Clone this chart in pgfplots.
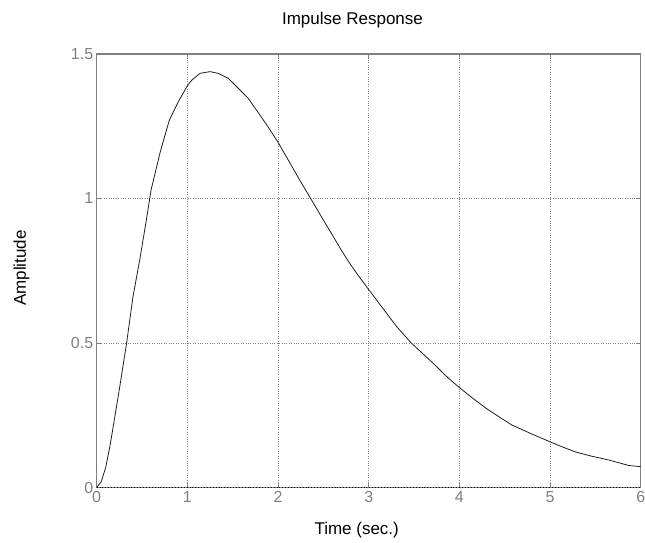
\documentclass[border=0pt]{standalone}
\usepackage{fontspec}
\setmainfont{Liberation Sans}
\usepackage{pgfplots}
\pgfplotsset{compat=1.18}
\definecolor{axgray}{RGB}{128,128,128}
\definecolor{curve}{RGB}{30,30,30}

\begin{document}
\begin{tikzpicture}
\begin{axis}[
  name=ax,
  scale only axis,
  width=544pt, height=433.5pt,
  xmin=0, xmax=6, ymin=0, ymax=1.5,
  xtick={0,1,2,3,4,5,6},
  ytick={0,0.5,1,1.5},
  /pgf/number format/assume math mode=true,
  tick label style={font=\fontsize{16}{16}\selectfont, text=axgray},
  axis line style={axgray, line width=1.2pt},
  tick style={axgray, line width=0.6pt},
  tick align=inside,
  major tick length=5pt,
  grid=major,
  major grid style={axgray, dotted, line width=0.7pt},
  clip=false,
]
% zero reference line
\addplot[black, dotted, line width=0.9pt] coordinates {(0,0) (6,0)};
% impulse response
\addplot[curve, line width=0.8pt] coordinates {
  (0,0) (0.05,0.02) (0.1,0.07) (0.15,0.15) (0.2,0.245) (0.25,0.34)
  (0.3,0.44) (0.33,0.5) (0.4,0.66) (0.476,0.79) (0.55,0.93) (0.6,1.03)
  (0.7,1.16) (0.8,1.27) (0.9,1.335) (1.0,1.39) (1.05,1.41) (1.14,1.433)
  (1.25,1.439) (1.34,1.433) (1.45,1.416) (1.55,1.385) (1.67,1.347)
  (1.78,1.298) (1.89,1.248) (1.95,1.219) (2.01,1.189) (2.07,1.156)
  (2.13,1.124) (2.24,1.063) (2.36,1.0) (2.48,0.936) (2.61,0.868)
  (2.7,0.82) (2.8,0.771) (2.9,0.727) (3.0,0.685) (3.125,0.633)
  (3.31,0.556) (3.47,0.5) (3.6,0.462) (3.71,0.43) (3.88,0.378)
  (4.0,0.346) (4.15,0.308) (4.3,0.273) (4.45,0.242) (4.58,0.216)
  (4.8,0.185) (5.0,0.158) (5.14,0.14) (5.28,0.123) (5.45,0.109)
  (5.65,0.095) (5.87,0.076) (5.94,0.074) (6,0.072)
};
\end{axis}
\node[anchor=base, font=\fontsize{17}{17}\selectfont]
  at ([xshift=255.8pt,yshift=29pt]ax.north west) {Impulse Response};
\node[anchor=base, font=\fontsize{17}{17}\selectfont]
  at ([xshift=260pt,yshift=-47.5pt]ax.south west) {Time (sec.)};
\node[anchor=base, rotate=90, font=\fontsize{17}{17}\selectfont]
  at ([xshift=-70.7pt,yshift=219.5pt]ax.south west) {Amplitude};
\pgfresetboundingbox
\path[use as bounding box]
  ([xshift=-96.7pt,yshift=-55.5pt]ax.south west)
  rectangle ([xshift=4.3pt,yshift=54pt]ax.north east);
\end{tikzpicture}
\end{document}
